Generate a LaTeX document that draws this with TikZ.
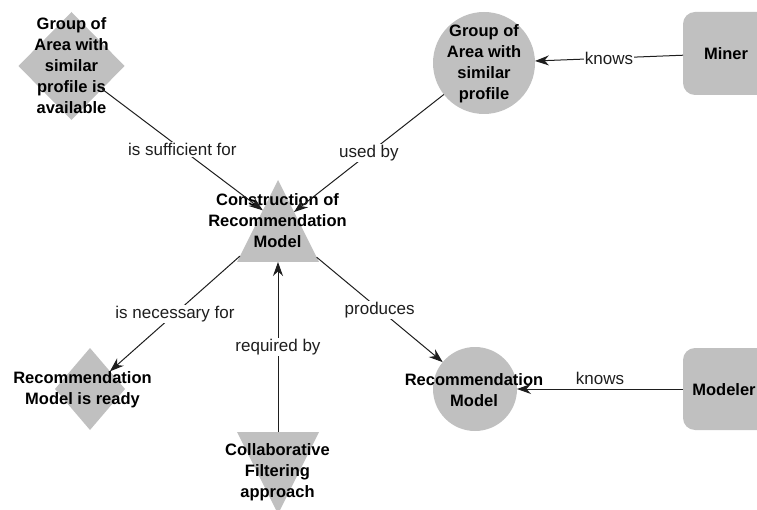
\documentclass[tikz,border=0pt]{standalone}
\usepackage{fontspec}
\setmainfont{Liberation Sans}
\usetikzlibrary{shapes.geometric,arrows.meta}
\definecolor{shapegray}{RGB}{192,192,192}
\definecolor{linegray}{RGB}{30,30,30}
\begin{document}
\begin{tikzpicture}[x=1pt,y=-1pt,
  shp/.style={fill=shapegray,draw=none,inner sep=0pt,outer sep=0pt},
  circ/.style={shp,circle},
  dia/.style={shp,diamond},
  tri/.style={shp,isosceles triangle,isosceles triangle stretches,minimum width=82pt,minimum height=82pt},
  box/.style={shp,rectangle,rounded corners=12pt,minimum width=88pt,minimum height=83pt},
  nt/.style={font=\fontsize{16.5}{21}\selectfont\bfseries,align=center,inner sep=0pt,text=black},
  lbl/.style={font=\fontsize{17}{20}\selectfont,text=linegray,fill=white,inner sep=1pt},
  lblplain/.style={font=\fontsize{17}{20}\selectfont,text=linegray,inner sep=0pt},
  arr/.style={draw=linegray,line width=1pt,-{Stealth[length=14pt,width=10pt]}}
]
\useasboundingbox (0,0) rectangle (757,510);
\clip (0,0) rectangle (757,510);

% shapes
\node[dia,minimum width=106pt,minimum height=108pt] (dtop) at (71.5,66) {};
\node[circ,minimum size=102pt] (ctop) at (484,63) {};
\node[box] (miner) at (727,53.5) {};
\node[tri,shape border rotate=90,anchor=apex] (t1) at (278,180) {};
\node[dia,minimum width=70pt,minimum height=82pt] (dbot) at (90,389) {};
\node[tri,shape border rotate=270,anchor=apex] (t2) at (278,514) {};
\node[circ,minimum size=84pt] (c2) at (475,389) {};
\node[box,minimum height=82pt] (modeler) at (727,389) {};

% texts
\node[nt] (tdtop) at (71.5,66) {Group of\\Area with\\similar\\profile is\\available};
\node[nt] (tctop) at (484,64) {Group of\\Area with\\similar\\profile};
\node[nt] (tminer) at (726,53.5) {Miner};
\node[nt] (tt1) at (277.5,221) {Construction of\\Recommendation\\Model};
\node[nt] (tdbot) at (82.5,390) {Recommendation\\Model is ready};
\node[nt] (tt2) at (277.5,472) {Collaborative\\Filtering\\approach};
\node[nt] (tc2) at (474,390) {Recommendation\\Model};
\node[nt] (tmodeler) at (724,389.5) {Modeler};

% connectors
\draw[arr] (dtop) -- node[lbl] {is sufficient for} (t1.120.6);
\draw[arr] (ctop) -- node[lbl] {used by} (t1.57.8);
\draw[arr] (miner) -- node[lbl] {knows} (ctop);
\draw[arr] (t1.207.8) -- node[lbl] {is necessary for} (dbot);
\draw[arr] (t2) -- node[lbl] {required by} (t1);
\draw[arr] (t1.332.9) -- node[lbl] {produces} (c2);
\draw[arr] (modeler) -- node[lblplain,anchor=base,yshift=5pt] {knows} (c2);
\end{tikzpicture}
\end{document}
